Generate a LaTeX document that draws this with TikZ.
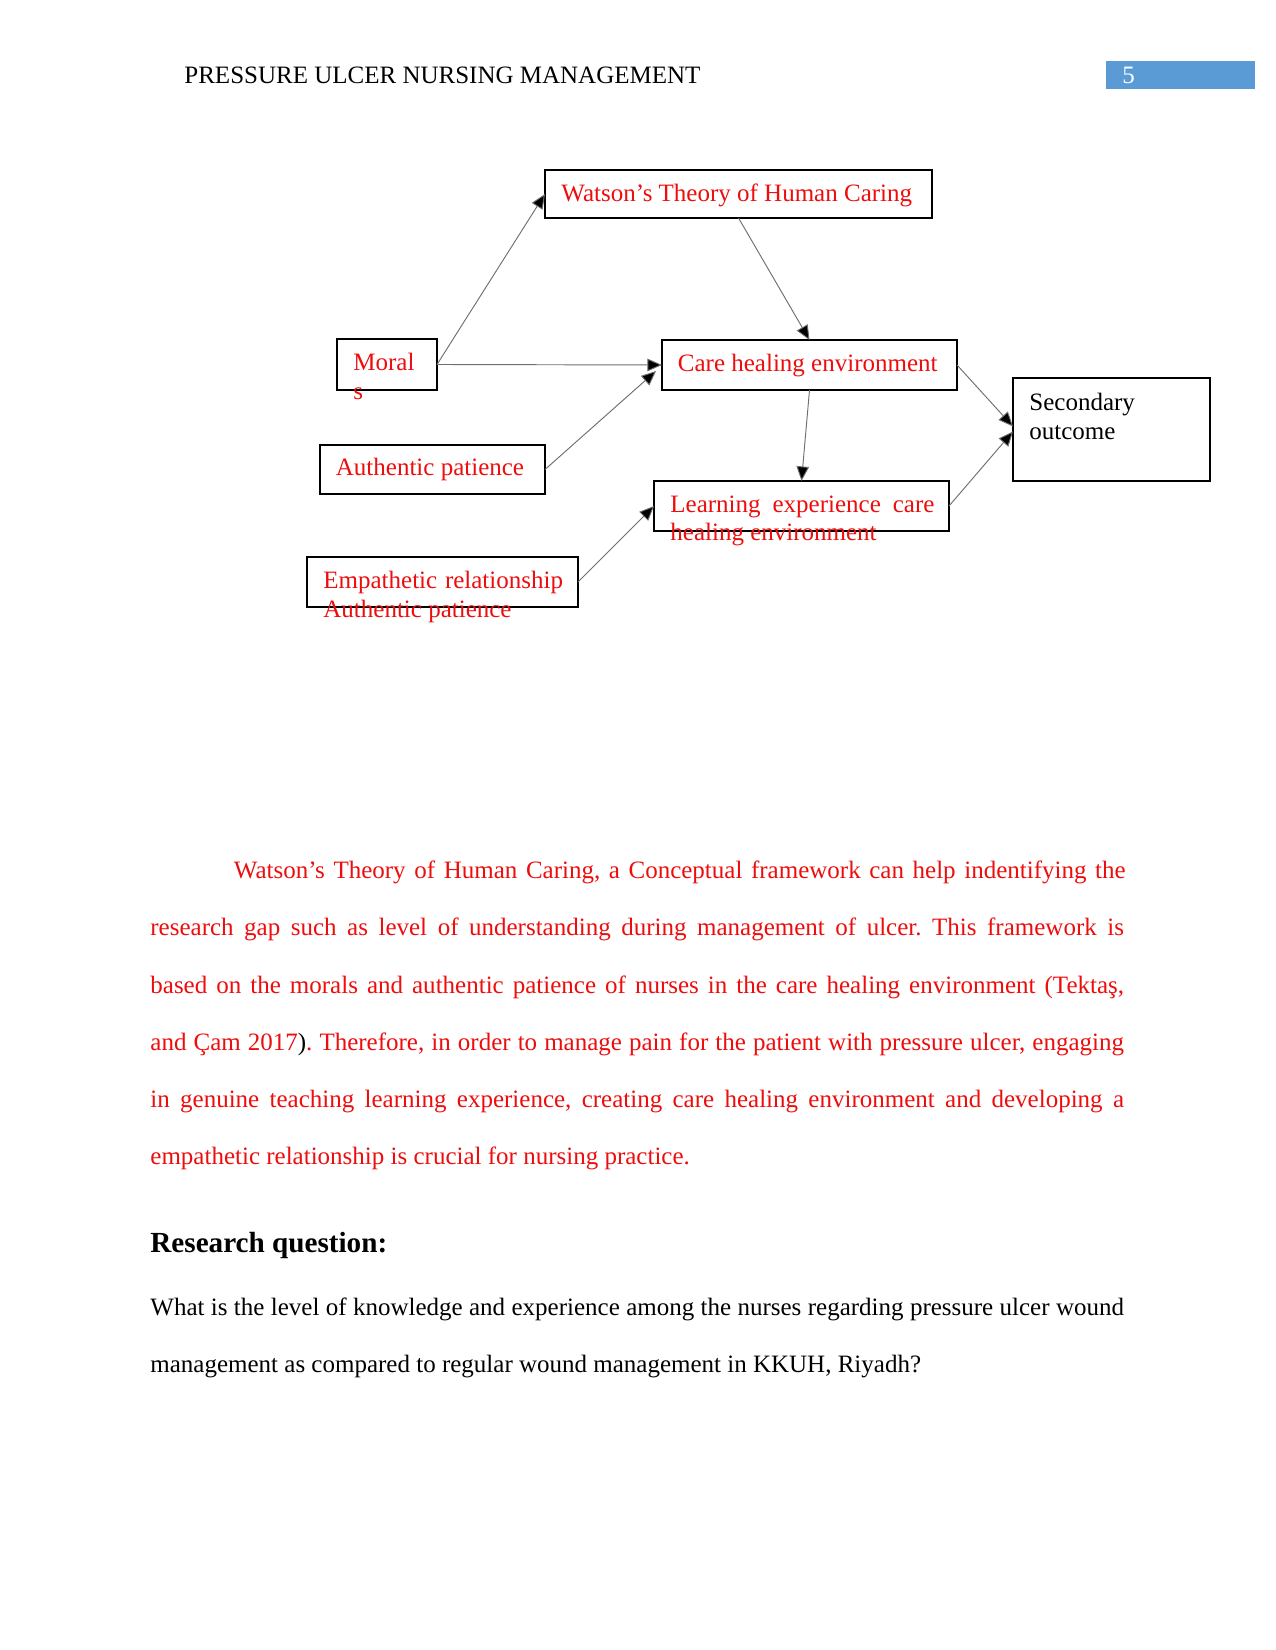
\documentclass[tikz,border=0pt]{standalone}
\usepackage{fontspec}
\setmainfont{Liberation Serif}
\usetikzlibrary{arrows.meta,calc}
\definecolor{hdrblue}{HTML}{5B9BD5}
\definecolor{txtred}{rgb}{0.93,0.05,0.05}
\frenchspacing
\begin{document}
\frenchspacing
\begin{tikzpicture}[x=0.48pt,y=-0.48pt,
  box/.style={draw=black,line width=0.6pt,inner sep=0pt,outer sep=0pt},
  lbl/.style={anchor=base west,inner sep=0pt,font=\fontsize{12}{14}\selectfont},
  rlbl/.style={lbl,text=txtred},
  conn/.style={draw={rgb,255:red,110;green,110;blue,110},line width=0.45pt,-{Triangle[length=7pt,width=6pt,fill=black]}},
  body/.style={anchor=base west,inner sep=0pt,font=\fontsize{12}{14}\selectfont\frenchspacing}]
\useasboundingbox (0,0) rectangle (1275,1650);
% header
\node[lbl] (hdr) at (184,84) {PRESSURE ULCER NURSING MANAGEMENT};
\node[fill=hdrblue,inner sep=0pt,minimum width=71.5pt,minimum height=13pt] (pgbox) at (1180.5,75) {};
\node[lbl,text=white] (pgnum) at (1122,84) {5};
% boxes
\node[box,minimum width=185.8pt,minimum height=23pt] (watson) at (738.5,194) {};
\node[box,minimum width=48pt,minimum height=24.5pt] (moral) at (387,364.5) {};
\node[box,minimum width=141.6pt,minimum height=24pt] (care) at (809.5,365) {};
\node[box,minimum width=108pt,minimum height=23.5pt] (auth) at (432.5,469.5) {};
\node[box,minimum width=141.6pt,minimum height=24pt] (learn) at (801.5,506) {};
\node[box,minimum width=130.1pt,minimum height=24pt] (emp) at (442.5,582) {};
\node[box,minimum width=94.6pt,minimum height=49.4pt] (sec) at (1111.5,429.5) {};
% box texts
\node[rlbl] (twatson) at (561,202) {Watson’s Theory of Human Caring};
\node[rlbl] (tmoral1) at (353,371) {Moral};
\node[rlbl] (tmoral2) at (353,400) {s};
\node[rlbl] (tcare) at (677.5,372) {Care healing environment};
\node[rlbl] (tauth) at (335.5,476) {Authentic patience};
\node[rlbl] (tlearn1) at (670,512) {\makebox[126.7pt][s]{Learning experience care}};
\node[rlbl] (tlearn2) at (670,540) {healing environment};
\node[rlbl] (temp1) at (323,588) {\makebox[115pt][s]{Empathetic relationship}};
\node[rlbl] (temp2) at (323,617) {Authentic patience};
\node[lbl] (tsec1) at (1029,410) {Secondary};
\node[lbl] (tsec2) at (1029,439) {outcome};
% connectors
\draw[conn] (moral.east) -- (watson.west);
\draw[conn] (watson.south) -- (care.north);
\draw[conn] (moral.east) -- (care.west);
\draw[conn] (auth.east) -- ($(care.west)+(-6,6)$);
\draw[conn] (care.south) -- (learn.north);
\draw[conn] (care.east) -- ($(sec.west)+(0,-3)$);
\draw[conn] (learn.east) -- ($(sec.west)+(0,2)$);
\draw[conn] (emp.east) -- (learn.west);
% body paragraph
\begin{scope}[every node/.style={body,text=txtred}]
\node (p1) at (233.5,878.5) {\makebox[428pt][s]{Watson’s Theory of Human Caring, a Conceptual framework can help indentifying the}};
\node (p2) at (150,935.5) {\makebox[467.3pt][s]{research gap such as level of understanding during management of ulcer. This framework is}};
\node (p3) at (150,993.5) {\makebox[467.3pt][s]{based on the morals and authentic patience of nurses in the care healing environment (Tektaş,}};
\node (p4) at (150,1050.5) {\makebox[467.3pt][s]{and Çam 2017{\color{black})}. Therefore, in order to manage pain for the patient with pressure ulcer, engaging}};
\node (p5) at (150,1107.5) {\makebox[467.3pt][s]{in genuine teaching learning experience, creating care healing environment and developing a}};
\node (p6) at (150,1164.5) {empathetic relationship is crucial for nursing practice.};
\end{scope}
\node[body,font=\fontsize{14}{16}\selectfont\bfseries] (rq) at (150,1252) {Research question:};
\node[body] (q1) at (150,1315) {\makebox[467.3pt][s]{What is the level of knowledge and experience among the nurses regarding pressure ulcer wound}};
\node[body] (q2) at (150,1372) {management as compared to regular wound management in KKUH, Riyadh?};
\end{tikzpicture}
\end{document}
